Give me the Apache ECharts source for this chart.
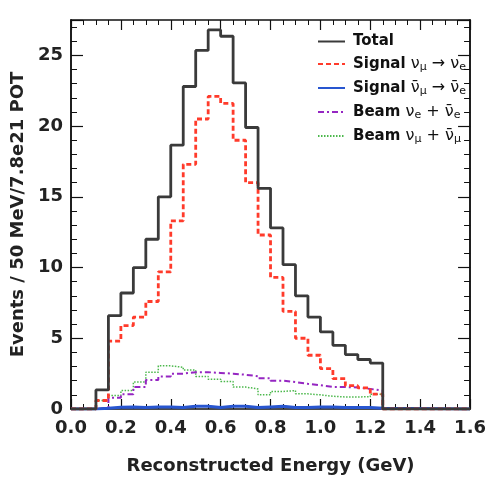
<!DOCTYPE html>
<html>
<head>
<meta charset="utf-8">
<script src="https://cdn.jsdelivr.net/npm/echarts@6/dist/echarts.min.js"></script>
<style>
html,body{margin:0;padding:0;background:#fff;}
#chart{width:489px;height:480px;}
</style>
</head>
<body>
<div id="chart"></div>
<script>
// Low edges of the 50 MeV bins (GeV) that contain events
const binEdges = [0.10,0.15,0.20,0.25,0.30,0.35,0.40,0.45,0.50,0.55,0.60,0.65,0.70,0.75,0.80,0.85,0.90,0.95,1.00,1.05,1.10,1.15,1.20];
const binEnd = 1.25;
const axisStart = 0.0;
const axisEnd = 1.6;

const totalVals   = [1.35,6.6,8.2,10.0,12.0,15.0,18.65,22.8,25.35,26.8,26.35,23.05,19.9,15.6,12.8,10.2,8.0,6.5,5.45,4.5,3.85,3.5,3.25];
const sigNueVals  = [0.6,4.8,5.9,6.5,7.6,9.7,13.3,17.3,20.5,22.1,21.6,19.0,16.0,12.3,9.3,6.9,5.0,3.8,2.85,2.15,1.65,1.5,1.05];
const sigNuebarVals = [0.05,0.12,0.15,0.1,0.15,0.15,0.1,0.2,0.2,0.1,0.2,0.2,0.1,0.15,0.2,0.1,0.1,0.15,0.15,0.1,0.1,0.1,0.05];
const beamNueVals = [0.1,0.8,1.05,1.55,2.05,2.3,2.5,2.6,2.6,2.55,2.5,2.42,2.32,2.17,2.0,1.9,1.78,1.68,1.56,1.55,1.52,1.42,1.3];
const beamNumuVals = [0.6,0.96,1.3,1.9,2.6,3.05,2.95,2.75,2.3,2.1,1.95,1.55,1.42,1.0,1.24,1.3,1.07,1.0,0.9,0.85,0.85,0.87,1.05];

const xTickLabels = ['0.0','0.2','0.4','0.6','0.8','1.0','1.2','1.4','1.6'];
const yTickLabels = ['0','5','10','15','20','25'];

const seriesNames = ['Total','SigNue','SigNuebar','BeamNue','BeamNumu'];
const legendTexts = {
  'Total': '{b|Total}',
  'SigNue': '{b|Signal }{g|\u03BD}{s|\u03BC}{g| \u2192 \u03BD}{s|e}',
  'SigNuebar': '{b|Signal }{g|\u03BD\u0304}{s|\u03BC}{g| \u2192 \u03BD\u0304}{s|e}',
  'BeamNue': '{b|Beam }{g|\u03BD}{s|e}{g| + \u03BD\u0304}{s|e}',
  'BeamNumu': '{b|Beam }{g|\u03BD}{s|\u03BC}{g| + \u03BD\u0304}{s|\u03BC}'
};

function histData(vals) {
  const d = [[axisStart, 0]];
  for (let i = 0; i < binEdges.length; i++) d.push([binEdges[i], vals[i]]);
  d.push([binEnd, 0]);
  d.push([axisEnd, 0]);
  return d;
}

const FONT = 'DejaVu Sans';
const chart = echarts.init(document.getElementById('chart'), null, {renderer: 'canvas'});

function mkSeries(name, vals, color, width, type, z) {
  return {
    name: name, type: 'line', step: 'end', symbol: 'none', z: z,
    data: histData(vals),
    lineStyle: {color: color, width: width, type: type},
    itemStyle: {color: color},
    xAxisIndex: 0, yAxisIndex: 0
  };
}

const yMax = 27.5;
const baseY = {
  type: 'value', min: 0, max: yMax, splitLine: {show: false},
  axisLine: {show: true, lineStyle: {color: '#111', width: 1.5}}
};

chart.setOption({
  animation: false,
  backgroundColor: '#fff',
  grid: {left: 71, right: 15, top: 20, bottom: 68},
  legend: {
    orient: 'vertical', left: 317, top: 34, padding: 0,
    itemWidth: 27, itemHeight: 14, itemGap: 7,
    data: seriesNames,
    itemStyle: {opacity: 0},
    formatter: function (n) { return legendTexts[n]; },
    textStyle: {
      color: '#111', padding: [0, 0, 0, 3],
      rich: {
        b: {fontFamily: FONT, fontWeight: 'bold', fontSize: 15, lineHeight: 18, color: '#111'},
        g: {fontFamily: FONT, fontSize: 16, lineHeight: 18, color: '#111'},
        s: {fontFamily: FONT, fontSize: 11, lineHeight: 9, verticalAlign: 'bottom', color: '#111'}
      }
    }
  },
  xAxis: [
    {
      type: 'value', position: 'bottom', min: axisStart, max: axisEnd, interval: 0.2,
      splitLine: {show: false},
      axisLine: {show: true, onZero: false, lineStyle: {color: '#111', width: 1.5}},
      axisTick: {show: true, inside: true, length: 10, lineStyle: {color: '#111', width: 1.2}},
      minorTick: {show: true, splitNumber: 4, length: 5, lineStyle: {color: '#111', width: 1}},
      axisLabel: {
        margin: 10, color: '#222', fontFamily: FONT, fontWeight: 'bold', fontSize: 18,
        formatter: function (v) { return xTickLabels[Math.round(v / 0.2)]; }
      },
      name: 'Reconstructed Energy (GeV)', nameLocation: 'middle', nameGap: 48,
      nameTextStyle: {fontFamily: FONT, fontWeight: 'bold', fontSize: 18, color: '#222'}
    },
    {
      type: 'value', position: 'top', min: axisStart, max: axisEnd, interval: 0.2,
      splitLine: {show: false},
      axisLine: {show: true, onZero: false, lineStyle: {color: '#111', width: 1.5}},
      axisTick: {show: true, inside: true, length: 10, lineStyle: {color: '#111', width: 1.2}},
      minorTick: {show: true, splitNumber: 4, length: 5, lineStyle: {color: '#111', width: 1}},
      axisLabel: {show: false}
    }
  ],
  yAxis: [
    Object.assign({}, baseY, {
      position: 'left', interval: 5,
      axisTick: {show: true, inside: true, length: 12, lineStyle: {color: '#111', width: 1.2}},
      axisLabel: {
        margin: 8, color: '#222', fontFamily: FONT, fontWeight: 'bold', fontSize: 18,
        formatter: function (v) { return v % 5 === 0 ? yTickLabels[v / 5] : ''; }
      },
      name: 'Events / 50 MeV/7.8e21 POT', nameLocation: 'middle', nameGap: 39,
      nameTextStyle: {fontFamily: FONT, fontWeight: 'bold', fontSize: 18, color: '#222'}
    }),
    Object.assign({}, baseY, {
      position: 'left', interval: 1,
      axisTick: {show: true, inside: true, length: 6, lineStyle: {color: '#111', width: 1}},
      axisLabel: {show: false}
    }),
    Object.assign({}, baseY, {
      position: 'right', interval: 5,
      axisTick: {show: true, inside: true, length: 12, lineStyle: {color: '#111', width: 1.2}},
      axisLabel: {show: false}
    }),
    Object.assign({}, baseY, {
      position: 'right', interval: 1,
      axisTick: {show: true, inside: true, length: 6, lineStyle: {color: '#111', width: 1}},
      axisLabel: {show: false}
    })
  ],
  series: [
    mkSeries('BeamNumu', beamNumuVals, '#4cb84c', 1.5, [1.5, 1.5], 2),
    mkSeries('BeamNue', beamNueVals, '#9526c2', 2, [6, 3, 2, 3], 3),
    mkSeries('SigNuebar', sigNuebarVals, '#2856d0', 3, 'solid', 4),
    mkSeries('SigNue', sigNueVals, '#ff3b2b', 2.8, [5, 3], 5),
    mkSeries('Total', totalVals, '#3a3a3a', 2.8, 'solid', 6)
  ]
});
</script>
</body>
</html>
